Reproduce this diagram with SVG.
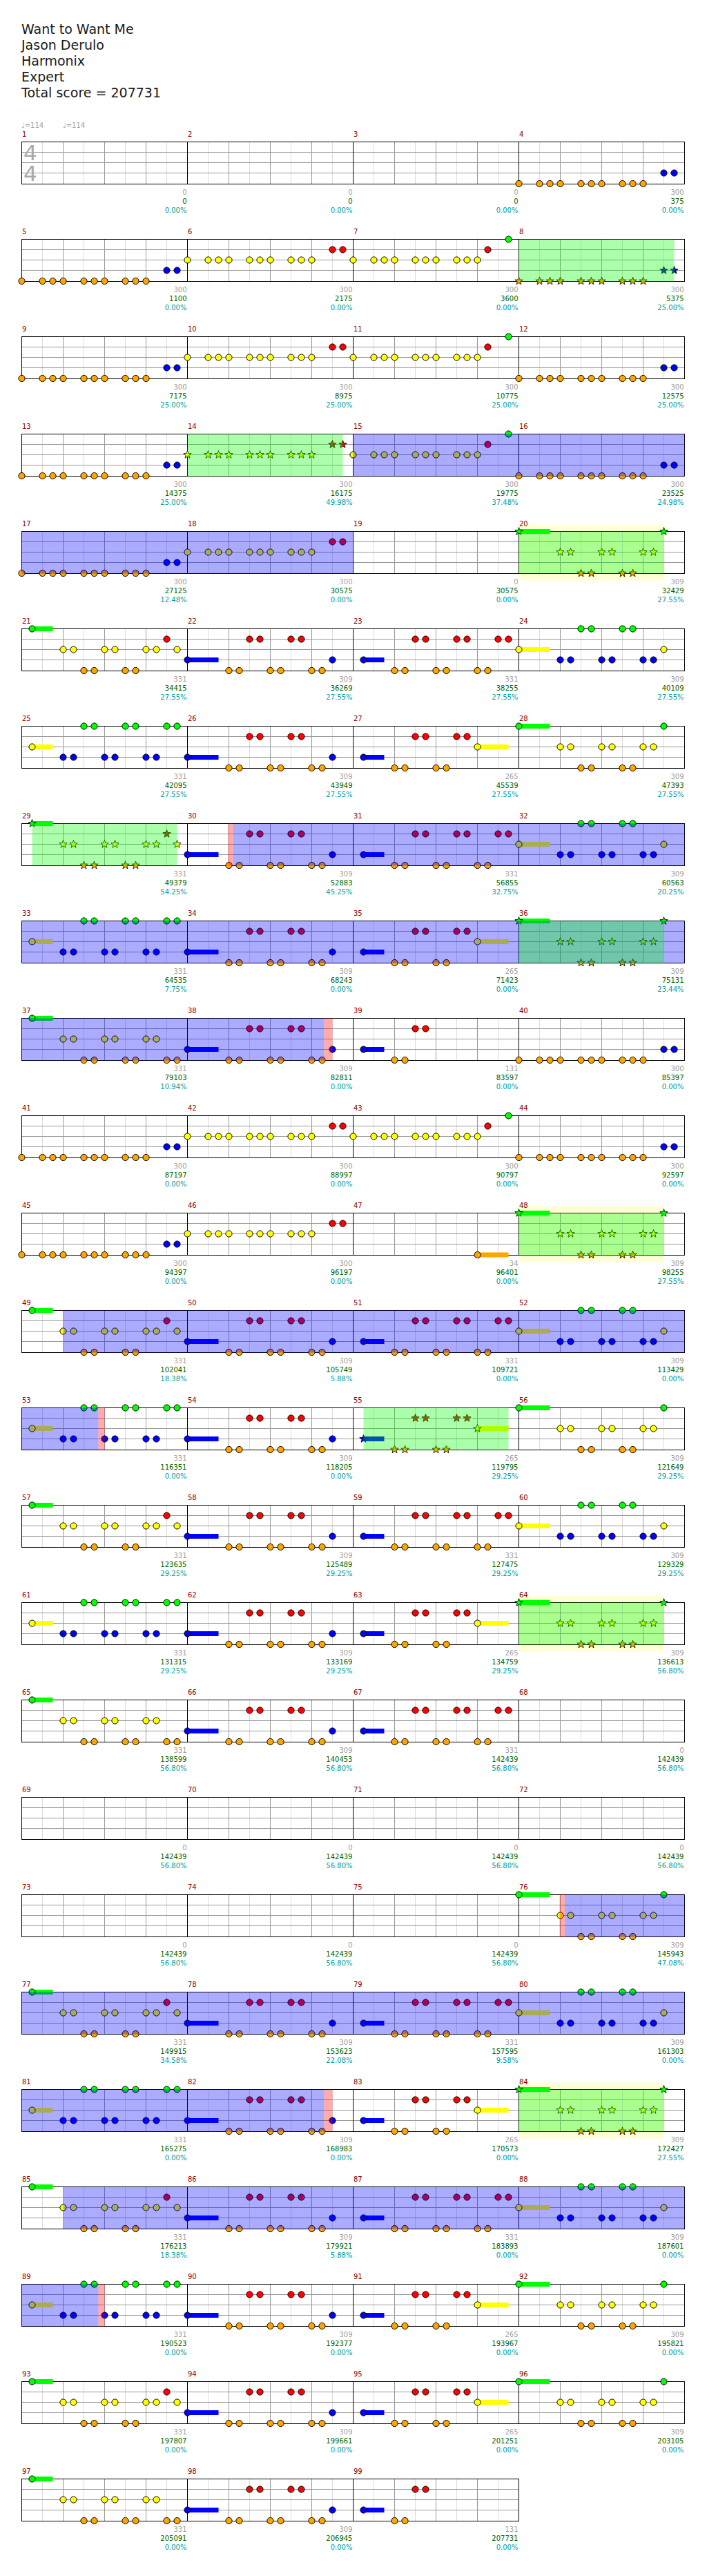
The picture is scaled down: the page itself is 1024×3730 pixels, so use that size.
<svg xmlns="http://www.w3.org/2000/svg" xmlns:xlink="http://www.w3.org/1999/xlink" width="1024" height="3730" viewBox="0 0 1024 3730">
<style>
.ti{font-family:'DejaVu Sans',sans-serif;font-size:19px;fill:#1a1a1a}
.mn{font-family:'DejaVu Sans',sans-serif;font-size:10px;fill:#8b0000}
.a,.b,.c{font-family:'DejaVu Sans',sans-serif;font-size:10px;text-anchor:end}
.a{fill:#a0a0a0}.b{fill:#006400}.c{fill:#00a0a0}
.tm{font-family:'DejaVu Sans',sans-serif;font-size:10px;fill:#a0a0a0}
.ts{font-family:'DejaVu Sans',sans-serif;font-size:31px;fill:#aaaaaa}
circle{stroke:#000;stroke-width:1}
.gov{fill:#00ff00;fill-opacity:0.33}
.bov{fill:#0000ff;fill-opacity:0.33}
.pov{fill:#ff0000;fill-opacity:0.33}
.ybg{fill:#ffffd5}
</style>
<defs>
<g id="grid">
<path d="M30,0V61M90,0V61M150,0V61M210,0V61M270,0V61M330,0V61M390,0V61M450,0V61M510,0V61M570,0V61M630,0V61M690,0V61M750,0V61M810,0V61M870,0V61M930,0V61" stroke="#dcdcdc"/>
<path d="M0,15H960M0,30H960M0,45H960M60,0V61M120,0V61M180,0V61M300,0V61M360,0V61M420,0V61M540,0V61M600,0V61M660,0V61M780,0V61M840,0V61M900,0V61" stroke="#999"/>
<path d="M240,0V61M480,0V61M720,0V61" stroke="#000"/>
<rect width="960" height="61" fill="none" stroke="#000"/>
</g>
<g id="grid3">
<path d="M30,0V61M90,0V61M150,0V61M210,0V61M270,0V61M330,0V61M390,0V61M450,0V61M510,0V61M570,0V61M630,0V61M690,0V61" stroke="#dcdcdc"/>
<path d="M0,15H720M0,30H720M0,45H720M60,0V61M120,0V61M180,0V61M300,0V61M360,0V61M420,0V61M540,0V61M600,0V61M660,0V61" stroke="#999"/>
<path d="M240,0V61M480,0V61" stroke="#000"/>
<rect width="720" height="61" fill="none" stroke="#000"/>
</g>
<circle id="G" r="4.6" fill="#00ff00"/>
<circle id="R" cy="15" r="4.6" fill="#ff0000"/>
<circle id="Y" cy="30" r="4.6" fill="#ffff00"/>
<circle id="B" cy="45" r="4.6" fill="#0000ff"/>
<circle id="O" cy="60.5" r="4.6" fill="#ffa500"/>
<path id="st" d="M0,-6L1.47,-2.02L5.71,-1.85L2.38,0.77L3.53,4.85L0,2.5L-3.53,4.85L-2.38,0.77L-5.71,-1.85L-1.47,-2.02Z" stroke="#000" stroke-width="0.8"/>
<use id="sG" href="#st" fill="#00ff00"/>
<use id="sR" href="#st" y="15" fill="#ff0000"/>
<use id="sY" href="#st" y="30" fill="#ffff00"/>
<use id="sB" href="#st" y="45" fill="#0000ff"/>
<use id="sO" href="#st" y="60.5" fill="#ffa500"/>
<g id="P_OB"><use href="#O"/><use href="#O" x="30"/><use href="#O" x="45"/><use href="#O" x="60"/><use href="#O" x="90"/><use href="#O" x="105"/><use href="#O" x="120"/><use href="#O" x="150"/><use href="#O" x="165"/><use href="#O" x="180"/><use href="#B" x="210"/><use href="#B" x="225"/></g>
<g id="P_YR"><use href="#Y"/><use href="#Y" x="30"/><use href="#Y" x="45"/><use href="#Y" x="60"/><use href="#Y" x="90"/><use href="#Y" x="105"/><use href="#Y" x="120"/><use href="#Y" x="150"/><use href="#Y" x="165"/><use href="#Y" x="180"/><use href="#R" x="210"/><use href="#R" x="225"/></g>
<g id="P_YRG"><use href="#Y"/><use href="#Y" x="30"/><use href="#Y" x="45"/><use href="#Y" x="60"/><use href="#Y" x="90"/><use href="#Y" x="105"/><use href="#Y" x="120"/><use href="#Y" x="150"/><use href="#Y" x="165"/><use href="#Y" x="180"/><use href="#R" x="195"/><use href="#G" x="225"/></g>
<g id="S_OB"><use href="#sO"/><use href="#sO" x="30"/><use href="#sO" x="45"/><use href="#sO" x="60"/><use href="#sO" x="90"/><use href="#sO" x="105"/><use href="#sO" x="120"/><use href="#sO" x="150"/><use href="#sO" x="165"/><use href="#sO" x="180"/><use href="#sB" x="210"/><use href="#sB" x="225"/></g>
<g id="S_YR"><use href="#sY"/><use href="#sY" x="30"/><use href="#sY" x="45"/><use href="#sY" x="60"/><use href="#sY" x="90"/><use href="#sY" x="105"/><use href="#sY" x="120"/><use href="#sY" x="150"/><use href="#sY" x="165"/><use href="#sY" x="180"/><use href="#sR" x="210"/><use href="#sR" x="225"/></g>
<g id="P_A"><rect x="15" y="-3.5" width="30" height="7" fill="#00ff00"/><use href="#G" x="15"/><use href="#Y" x="60"/><use href="#Y" x="75"/><use href="#Y" x="120"/><use href="#Y" x="135"/><use href="#Y" x="180"/><use href="#Y" x="195"/><use href="#Y" x="225"/><use href="#O" x="90"/><use href="#O" x="105"/><use href="#O" x="150"/><use href="#O" x="165"/><use href="#R" x="210"/></g>
<g id="P_B"><rect x="0" y="41.5" width="45" height="7" fill="#0000ff"/><use href="#B"/><use href="#O" x="60"/><use href="#O" x="75"/><use href="#O" x="120"/><use href="#O" x="135"/><use href="#O" x="180"/><use href="#O" x="195"/><use href="#R" x="90"/><use href="#R" x="105"/><use href="#R" x="150"/><use href="#R" x="165"/><use href="#B" x="210"/></g>
<g id="P_C"><rect x="15" y="41.5" width="30" height="7" fill="#0000ff"/><use href="#B" x="15"/><use href="#O" x="60"/><use href="#O" x="75"/><use href="#O" x="120"/><use href="#O" x="135"/><use href="#O" x="180"/><use href="#O" x="195"/><use href="#R" x="90"/><use href="#R" x="105"/><use href="#R" x="150"/><use href="#R" x="165"/><use href="#R" x="210"/><use href="#R" x="225"/></g>
<g id="P_D"><rect x="0" y="26.5" width="45" height="7" fill="#ffff00"/><use href="#Y"/><use href="#B" x="60"/><use href="#B" x="75"/><use href="#B" x="120"/><use href="#B" x="135"/><use href="#B" x="180"/><use href="#B" x="195"/><use href="#G" x="90"/><use href="#G" x="105"/><use href="#G" x="150"/><use href="#G" x="165"/><use href="#Y" x="210"/></g>
<g id="P_E"><rect x="15" y="26.5" width="30" height="7" fill="#ffff00"/><use href="#Y" x="15"/><use href="#B" x="60"/><use href="#B" x="75"/><use href="#B" x="120"/><use href="#B" x="135"/><use href="#B" x="180"/><use href="#B" x="195"/><use href="#G" x="90"/><use href="#G" x="105"/><use href="#G" x="150"/><use href="#G" x="165"/><use href="#G" x="210"/><use href="#G" x="225"/></g>
<g id="P_F"><rect x="15" y="41.5" width="30" height="7" fill="#0000ff"/><use href="#B" x="15"/><use href="#O" x="60"/><use href="#O" x="75"/><use href="#O" x="120"/><use href="#O" x="135"/><use href="#R" x="90"/><use href="#R" x="105"/><use href="#R" x="150"/><use href="#R" x="165"/><rect x="180" y="26.5" width="45" height="7" fill="#ffff00"/><use href="#Y" x="180"/></g>
<g id="P_G"><rect x="0" y="-3.5" width="45" height="7" fill="#00ff00"/><use href="#G"/><use href="#Y" x="60"/><use href="#Y" x="75"/><use href="#Y" x="120"/><use href="#Y" x="135"/><use href="#Y" x="180"/><use href="#Y" x="195"/><use href="#O" x="90"/><use href="#O" x="105"/><use href="#O" x="150"/><use href="#O" x="165"/><use href="#G" x="210"/></g>
<g id="P_H"><rect x="15" y="-3.5" width="30" height="7" fill="#00ff00"/><use href="#G" x="15"/><use href="#Y" x="60"/><use href="#Y" x="75"/><use href="#Y" x="120"/><use href="#Y" x="135"/><use href="#Y" x="180"/><use href="#Y" x="195"/><use href="#O" x="90"/><use href="#O" x="105"/><use href="#O" x="150"/><use href="#O" x="165"/><use href="#O" x="210"/><use href="#O" x="225"/></g>
<g id="P_I"><rect x="15" y="41.5" width="30" height="7" fill="#0000ff"/><use href="#B" x="15"/><use href="#O" x="60"/><use href="#O" x="75"/><use href="#R" x="90"/><use href="#R" x="105"/></g>
<g id="P_J"><rect x="180" y="57" width="45" height="7" fill="#ffa500"/><use href="#O" x="180"/></g>
<g id="S_G"><rect x="0" y="-3.5" width="45" height="7" fill="#00ff00"/><use href="#sG"/><use href="#sY" x="60"/><use href="#sY" x="75"/><use href="#sY" x="120"/><use href="#sY" x="135"/><use href="#sY" x="180"/><use href="#sY" x="195"/><use href="#sO" x="90"/><use href="#sO" x="105"/><use href="#sO" x="150"/><use href="#sO" x="165"/><use href="#sG" x="210"/></g>
<g id="S_A"><rect x="15" y="-3.5" width="30" height="7" fill="#00ff00"/><use href="#sG" x="15"/><use href="#sY" x="60"/><use href="#sY" x="75"/><use href="#sY" x="120"/><use href="#sY" x="135"/><use href="#sY" x="180"/><use href="#sY" x="195"/><use href="#sY" x="225"/><use href="#sO" x="90"/><use href="#sO" x="105"/><use href="#sO" x="150"/><use href="#sO" x="165"/><use href="#sR" x="210"/></g>
<g id="S_F"><rect x="15" y="41.5" width="30" height="7" fill="#0000ff"/><use href="#sB" x="15"/><use href="#sO" x="60"/><use href="#sO" x="75"/><use href="#sO" x="120"/><use href="#sO" x="135"/><use href="#sR" x="90"/><use href="#sR" x="105"/><use href="#sR" x="150"/><use href="#sR" x="165"/><rect x="180" y="26.5" width="45" height="7" fill="#ffff00"/><use href="#sY" x="180"/></g>
</defs>
<rect width="1024" height="3730" fill="#fff"/>
<g id="title">
<text class="ti" x="31" y="49">Want to Want Me</text>
<text class="ti" x="31" y="72">Jason Derulo</text>
<text class="ti" x="31" y="95">Harmonix</text>
<text class="ti" x="31" y="118">Expert</text>
<text class="ti" x="31" y="141">Total score = 207731</text>
</g>
<g id="row1" transform="translate(0,205.5)">
<use href="#grid" x="31.5"/>
<use href="#P_OB" x="751.5"/>
<text class="tm" x="31" y="-20.5">♩=114</text><text class="tm" x="91" y="-20.5">♩=114</text>
<text class="ts" x="34" y="26.8">4</text><text class="ts" x="34" y="56.8">4</text>
<text class="mn" x="32" y="-7.5">1</text><text class="a" x="270.5" y="76.5">0</text><text class="b" x="270.5" y="89.5">0</text><text class="c" x="270.5" y="102.5">0.00%</text>
<text class="mn" x="272" y="-7.5">2</text><text class="a" x="510.5" y="76.5">0</text><text class="b" x="510.5" y="89.5">0</text><text class="c" x="510.5" y="102.5">0.00%</text>
<text class="mn" x="512" y="-7.5">3</text><text class="a" x="750.5" y="76.5">0</text><text class="b" x="750.5" y="89.5">0</text><text class="c" x="750.5" y="102.5">0.00%</text>
<text class="mn" x="752" y="-7.5">4</text><text class="a" x="990.5" y="76.5">300</text><text class="b" x="990.5" y="89.5">375</text><text class="c" x="990.5" y="102.5">0.00%</text>
</g>
<g id="row2" transform="translate(0,346.5)">
<use href="#grid" x="31.5"/>
<use href="#P_OB" x="31.5"/><use href="#P_YR" x="271.5"/><use href="#P_YRG" x="511.5"/><use href="#S_OB" x="751.5"/>
<rect class="gov" x="751.5" y="0" width="225" height="61"/>
<text class="mn" x="32" y="-7.5">5</text><text class="a" x="270.5" y="76.5">300</text><text class="b" x="270.5" y="89.5">1100</text><text class="c" x="270.5" y="102.5">0.00%</text>
<text class="mn" x="272" y="-7.5">6</text><text class="a" x="510.5" y="76.5">300</text><text class="b" x="510.5" y="89.5">2175</text><text class="c" x="510.5" y="102.5">0.00%</text>
<text class="mn" x="512" y="-7.5">7</text><text class="a" x="750.5" y="76.5">300</text><text class="b" x="750.5" y="89.5">3600</text><text class="c" x="750.5" y="102.5">0.00%</text>
<text class="mn" x="752" y="-7.5">8</text><text class="a" x="990.5" y="76.5">300</text><text class="b" x="990.5" y="89.5">5375</text><text class="c" x="990.5" y="102.5">25.00%</text>
</g>
<g id="row3" transform="translate(0,487.5)">
<use href="#grid" x="31.5"/>
<use href="#P_OB" x="31.5"/><use href="#P_YR" x="271.5"/><use href="#P_YRG" x="511.5"/><use href="#P_OB" x="751.5"/>
<text class="mn" x="32" y="-7.5">9</text><text class="a" x="270.5" y="76.5">300</text><text class="b" x="270.5" y="89.5">7175</text><text class="c" x="270.5" y="102.5">25.00%</text>
<text class="mn" x="272" y="-7.5">10</text><text class="a" x="510.5" y="76.5">300</text><text class="b" x="510.5" y="89.5">8975</text><text class="c" x="510.5" y="102.5">25.00%</text>
<text class="mn" x="512" y="-7.5">11</text><text class="a" x="750.5" y="76.5">300</text><text class="b" x="750.5" y="89.5">10775</text><text class="c" x="750.5" y="102.5">25.00%</text>
<text class="mn" x="752" y="-7.5">12</text><text class="a" x="990.5" y="76.5">300</text><text class="b" x="990.5" y="89.5">12575</text><text class="c" x="990.5" y="102.5">25.00%</text>
</g>
<g id="row4" transform="translate(0,628.5)">
<use href="#grid" x="31.5"/>
<use href="#P_OB" x="31.5"/><use href="#S_YR" x="271.5"/><use href="#P_YRG" x="511.5"/><use href="#P_OB" x="751.5"/>
<rect class="gov" x="271.5" y="0" width="225" height="61"/>
<rect class="bov" x="511.5" y="0" width="480" height="61"/>
<text class="mn" x="32" y="-7.5">13</text><text class="a" x="270.5" y="76.5">300</text><text class="b" x="270.5" y="89.5">14375</text><text class="c" x="270.5" y="102.5">25.00%</text>
<text class="mn" x="272" y="-7.5">14</text><text class="a" x="510.5" y="76.5">300</text><text class="b" x="510.5" y="89.5">16175</text><text class="c" x="510.5" y="102.5">49.98%</text>
<text class="mn" x="512" y="-7.5">15</text><text class="a" x="750.5" y="76.5">300</text><text class="b" x="750.5" y="89.5">19775</text><text class="c" x="750.5" y="102.5">37.48%</text>
<text class="mn" x="752" y="-7.5">16</text><text class="a" x="990.5" y="76.5">300</text><text class="b" x="990.5" y="89.5">23525</text><text class="c" x="990.5" y="102.5">24.98%</text>
</g>
<g id="row5" transform="translate(0,769.5)">
<rect class="ybg" x="751.5" y="-10" width="210" height="81"/>
<use href="#grid" x="31.5"/>
<use href="#P_OB" x="31.5"/><use href="#P_YR" x="271.5"/><use href="#S_G" x="751.5"/>
<rect class="bov" x="31.5" y="0" width="480" height="61"/>
<rect class="gov" x="751.5" y="0" width="210" height="61"/>
<text class="mn" x="32" y="-7.5">17</text><text class="a" x="270.5" y="76.5">300</text><text class="b" x="270.5" y="89.5">27125</text><text class="c" x="270.5" y="102.5">12.48%</text>
<text class="mn" x="272" y="-7.5">18</text><text class="a" x="510.5" y="76.5">300</text><text class="b" x="510.5" y="89.5">30575</text><text class="c" x="510.5" y="102.5">0.00%</text>
<text class="mn" x="512" y="-7.5">19</text><text class="a" x="750.5" y="76.5">0</text><text class="b" x="750.5" y="89.5">30575</text><text class="c" x="750.5" y="102.5">0.00%</text>
<text class="mn" x="752" y="-7.5">20</text><text class="a" x="990.5" y="76.5">309</text><text class="b" x="990.5" y="89.5">32429</text><text class="c" x="990.5" y="102.5">27.55%</text>
</g>
<g id="row6" transform="translate(0,910.5)">
<use href="#grid" x="31.5"/>
<use href="#P_A" x="31.5"/><use href="#P_B" x="271.5"/><use href="#P_C" x="511.5"/><use href="#P_D" x="751.5"/>
<text class="mn" x="32" y="-7.5">21</text><text class="a" x="270.5" y="76.5">331</text><text class="b" x="270.5" y="89.5">34415</text><text class="c" x="270.5" y="102.5">27.55%</text>
<text class="mn" x="272" y="-7.5">22</text><text class="a" x="510.5" y="76.5">309</text><text class="b" x="510.5" y="89.5">36269</text><text class="c" x="510.5" y="102.5">27.55%</text>
<text class="mn" x="512" y="-7.5">23</text><text class="a" x="750.5" y="76.5">331</text><text class="b" x="750.5" y="89.5">38255</text><text class="c" x="750.5" y="102.5">27.55%</text>
<text class="mn" x="752" y="-7.5">24</text><text class="a" x="990.5" y="76.5">309</text><text class="b" x="990.5" y="89.5">40109</text><text class="c" x="990.5" y="102.5">27.55%</text>
</g>
<g id="row7" transform="translate(0,1051.5)">
<use href="#grid" x="31.5"/>
<use href="#P_E" x="31.5"/><use href="#P_B" x="271.5"/><use href="#P_F" x="511.5"/><use href="#P_G" x="751.5"/>
<text class="mn" x="32" y="-7.5">25</text><text class="a" x="270.5" y="76.5">331</text><text class="b" x="270.5" y="89.5">42095</text><text class="c" x="270.5" y="102.5">27.55%</text>
<text class="mn" x="272" y="-7.5">26</text><text class="a" x="510.5" y="76.5">309</text><text class="b" x="510.5" y="89.5">43949</text><text class="c" x="510.5" y="102.5">27.55%</text>
<text class="mn" x="512" y="-7.5">27</text><text class="a" x="750.5" y="76.5">265</text><text class="b" x="750.5" y="89.5">45539</text><text class="c" x="750.5" y="102.5">27.55%</text>
<text class="mn" x="752" y="-7.5">28</text><text class="a" x="990.5" y="76.5">309</text><text class="b" x="990.5" y="89.5">47393</text><text class="c" x="990.5" y="102.5">27.55%</text>
</g>
<g id="row8" transform="translate(0,1192.5)">
<use href="#grid" x="31.5"/>
<use href="#S_A" x="31.5"/><use href="#P_B" x="271.5"/><use href="#P_C" x="511.5"/><use href="#P_D" x="751.5"/>
<rect class="gov" x="46.5" y="0" width="210" height="61"/>
<rect class="pov" x="330.5" y="0" width="7.5" height="61"/>
<rect class="bov" x="338" y="0" width="653.5" height="61"/>
<text class="mn" x="32" y="-7.5">29</text><text class="a" x="270.5" y="76.5">331</text><text class="b" x="270.5" y="89.5">49379</text><text class="c" x="270.5" y="102.5">54.25%</text>
<text class="mn" x="272" y="-7.5">30</text><text class="a" x="510.5" y="76.5">309</text><text class="b" x="510.5" y="89.5">52883</text><text class="c" x="510.5" y="102.5">45.25%</text>
<text class="mn" x="512" y="-7.5">31</text><text class="a" x="750.5" y="76.5">331</text><text class="b" x="750.5" y="89.5">56855</text><text class="c" x="750.5" y="102.5">32.75%</text>
<text class="mn" x="752" y="-7.5">32</text><text class="a" x="990.5" y="76.5">309</text><text class="b" x="990.5" y="89.5">60563</text><text class="c" x="990.5" y="102.5">20.25%</text>
</g>
<g id="row9" transform="translate(0,1333.5)">
<use href="#grid" x="31.5"/>
<use href="#P_E" x="31.5"/><use href="#P_B" x="271.5"/><use href="#P_F" x="511.5"/><use href="#S_G" x="751.5"/>
<rect class="bov" x="31.5" y="0" width="960" height="61"/>
<rect class="gov" x="751.5" y="0" width="210" height="61"/>
<text class="mn" x="32" y="-7.5">33</text><text class="a" x="270.5" y="76.5">331</text><text class="b" x="270.5" y="89.5">64535</text><text class="c" x="270.5" y="102.5">7.75%</text>
<text class="mn" x="272" y="-7.5">34</text><text class="a" x="510.5" y="76.5">309</text><text class="b" x="510.5" y="89.5">68243</text><text class="c" x="510.5" y="102.5">0.00%</text>
<text class="mn" x="512" y="-7.5">35</text><text class="a" x="750.5" y="76.5">265</text><text class="b" x="750.5" y="89.5">71423</text><text class="c" x="750.5" y="102.5">0.00%</text>
<text class="mn" x="752" y="-7.5">36</text><text class="a" x="990.5" y="76.5">309</text><text class="b" x="990.5" y="89.5">75131</text><text class="c" x="990.5" y="102.5">23.44%</text>
</g>
<g id="row10" transform="translate(0,1474.5)">
<use href="#grid" x="31.5"/>
<use href="#P_H" x="31.5"/><use href="#P_B" x="271.5"/><use href="#P_I" x="511.5"/><use href="#P_OB" x="751.5"/>
<rect class="bov" x="31.5" y="0" width="438" height="61"/>
<rect class="pov" x="469.5" y="0" width="12" height="61"/>
<text class="mn" x="32" y="-7.5">37</text><text class="a" x="270.5" y="76.5">331</text><text class="b" x="270.5" y="89.5">79103</text><text class="c" x="270.5" y="102.5">10.94%</text>
<text class="mn" x="272" y="-7.5">38</text><text class="a" x="510.5" y="76.5">309</text><text class="b" x="510.5" y="89.5">82811</text><text class="c" x="510.5" y="102.5">0.00%</text>
<text class="mn" x="512" y="-7.5">39</text><text class="a" x="750.5" y="76.5">131</text><text class="b" x="750.5" y="89.5">83597</text><text class="c" x="750.5" y="102.5">0.00%</text>
<text class="mn" x="752" y="-7.5">40</text><text class="a" x="990.5" y="76.5">300</text><text class="b" x="990.5" y="89.5">85397</text><text class="c" x="990.5" y="102.5">0.00%</text>
</g>
<g id="row11" transform="translate(0,1615.5)">
<use href="#grid" x="31.5"/>
<use href="#P_OB" x="31.5"/><use href="#P_YR" x="271.5"/><use href="#P_YRG" x="511.5"/><use href="#P_OB" x="751.5"/>
<text class="mn" x="32" y="-7.5">41</text><text class="a" x="270.5" y="76.5">300</text><text class="b" x="270.5" y="89.5">87197</text><text class="c" x="270.5" y="102.5">0.00%</text>
<text class="mn" x="272" y="-7.5">42</text><text class="a" x="510.5" y="76.5">300</text><text class="b" x="510.5" y="89.5">88997</text><text class="c" x="510.5" y="102.5">0.00%</text>
<text class="mn" x="512" y="-7.5">43</text><text class="a" x="750.5" y="76.5">300</text><text class="b" x="750.5" y="89.5">90797</text><text class="c" x="750.5" y="102.5">0.00%</text>
<text class="mn" x="752" y="-7.5">44</text><text class="a" x="990.5" y="76.5">300</text><text class="b" x="990.5" y="89.5">92597</text><text class="c" x="990.5" y="102.5">0.00%</text>
</g>
<g id="row12" transform="translate(0,1756.5)">
<rect class="ybg" x="751.5" y="-10" width="210" height="81"/>
<use href="#grid" x="31.5"/>
<use href="#P_OB" x="31.5"/><use href="#P_YR" x="271.5"/><use href="#P_J" x="511.5"/><use href="#S_G" x="751.5"/>
<rect class="gov" x="751.5" y="0" width="210" height="61"/>
<text class="mn" x="32" y="-7.5">45</text><text class="a" x="270.5" y="76.5">300</text><text class="b" x="270.5" y="89.5">94397</text><text class="c" x="270.5" y="102.5">0.00%</text>
<text class="mn" x="272" y="-7.5">46</text><text class="a" x="510.5" y="76.5">300</text><text class="b" x="510.5" y="89.5">96197</text><text class="c" x="510.5" y="102.5">0.00%</text>
<text class="mn" x="512" y="-7.5">47</text><text class="a" x="750.5" y="76.5">34</text><text class="b" x="750.5" y="89.5">96401</text><text class="c" x="750.5" y="102.5">0.00%</text>
<text class="mn" x="752" y="-7.5">48</text><text class="a" x="990.5" y="76.5">309</text><text class="b" x="990.5" y="89.5">98255</text><text class="c" x="990.5" y="102.5">27.55%</text>
</g>
<g id="row13" transform="translate(0,1897.5)">
<use href="#grid" x="31.5"/>
<use href="#P_A" x="31.5"/><use href="#P_B" x="271.5"/><use href="#P_C" x="511.5"/><use href="#P_D" x="751.5"/>
<rect class="pov" x="91.5" y="0" width="1.5" height="61"/>
<rect class="bov" x="93" y="0" width="898.5" height="61"/>
<text class="mn" x="32" y="-7.5">49</text><text class="a" x="270.5" y="76.5">331</text><text class="b" x="270.5" y="89.5">102041</text><text class="c" x="270.5" y="102.5">18.38%</text>
<text class="mn" x="272" y="-7.5">50</text><text class="a" x="510.5" y="76.5">309</text><text class="b" x="510.5" y="89.5">105749</text><text class="c" x="510.5" y="102.5">5.88%</text>
<text class="mn" x="512" y="-7.5">51</text><text class="a" x="750.5" y="76.5">331</text><text class="b" x="750.5" y="89.5">109721</text><text class="c" x="750.5" y="102.5">0.00%</text>
<text class="mn" x="752" y="-7.5">52</text><text class="a" x="990.5" y="76.5">309</text><text class="b" x="990.5" y="89.5">113429</text><text class="c" x="990.5" y="102.5">0.00%</text>
</g>
<g id="row14" transform="translate(0,2038.5)">
<use href="#grid" x="31.5"/>
<use href="#P_E" x="31.5"/><use href="#P_B" x="271.5"/><use href="#S_F" x="511.5"/><use href="#P_G" x="751.5"/>
<rect class="bov" x="31.5" y="0" width="111" height="61"/>
<rect class="pov" x="142.5" y="0" width="9" height="61"/>
<rect class="gov" x="526.5" y="0" width="210" height="61"/>
<text class="mn" x="32" y="-7.5">53</text><text class="a" x="270.5" y="76.5">331</text><text class="b" x="270.5" y="89.5">116351</text><text class="c" x="270.5" y="102.5">0.00%</text>
<text class="mn" x="272" y="-7.5">54</text><text class="a" x="510.5" y="76.5">309</text><text class="b" x="510.5" y="89.5">118205</text><text class="c" x="510.5" y="102.5">0.00%</text>
<text class="mn" x="512" y="-7.5">55</text><text class="a" x="750.5" y="76.5">265</text><text class="b" x="750.5" y="89.5">119795</text><text class="c" x="750.5" y="102.5">29.25%</text>
<text class="mn" x="752" y="-7.5">56</text><text class="a" x="990.5" y="76.5">309</text><text class="b" x="990.5" y="89.5">121649</text><text class="c" x="990.5" y="102.5">29.25%</text>
</g>
<g id="row15" transform="translate(0,2179.5)">
<use href="#grid" x="31.5"/>
<use href="#P_A" x="31.5"/><use href="#P_B" x="271.5"/><use href="#P_C" x="511.5"/><use href="#P_D" x="751.5"/>
<text class="mn" x="32" y="-7.5">57</text><text class="a" x="270.5" y="76.5">331</text><text class="b" x="270.5" y="89.5">123635</text><text class="c" x="270.5" y="102.5">29.25%</text>
<text class="mn" x="272" y="-7.5">58</text><text class="a" x="510.5" y="76.5">309</text><text class="b" x="510.5" y="89.5">125489</text><text class="c" x="510.5" y="102.5">29.25%</text>
<text class="mn" x="512" y="-7.5">59</text><text class="a" x="750.5" y="76.5">331</text><text class="b" x="750.5" y="89.5">127475</text><text class="c" x="750.5" y="102.5">29.25%</text>
<text class="mn" x="752" y="-7.5">60</text><text class="a" x="990.5" y="76.5">309</text><text class="b" x="990.5" y="89.5">129329</text><text class="c" x="990.5" y="102.5">29.25%</text>
</g>
<g id="row16" transform="translate(0,2320.5)">
<rect class="ybg" x="751.5" y="-10" width="210" height="81"/>
<use href="#grid" x="31.5"/>
<use href="#P_E" x="31.5"/><use href="#P_B" x="271.5"/><use href="#P_F" x="511.5"/><use href="#S_G" x="751.5"/>
<rect class="gov" x="751.5" y="0" width="210" height="61"/>
<text class="mn" x="32" y="-7.5">61</text><text class="a" x="270.5" y="76.5">331</text><text class="b" x="270.5" y="89.5">131315</text><text class="c" x="270.5" y="102.5">29.25%</text>
<text class="mn" x="272" y="-7.5">62</text><text class="a" x="510.5" y="76.5">309</text><text class="b" x="510.5" y="89.5">133169</text><text class="c" x="510.5" y="102.5">29.25%</text>
<text class="mn" x="512" y="-7.5">63</text><text class="a" x="750.5" y="76.5">265</text><text class="b" x="750.5" y="89.5">134759</text><text class="c" x="750.5" y="102.5">29.25%</text>
<text class="mn" x="752" y="-7.5">64</text><text class="a" x="990.5" y="76.5">309</text><text class="b" x="990.5" y="89.5">136613</text><text class="c" x="990.5" y="102.5">56.80%</text>
</g>
<g id="row17" transform="translate(0,2461.5)">
<use href="#grid" x="31.5"/>
<use href="#P_H" x="31.5"/><use href="#P_B" x="271.5"/><use href="#P_C" x="511.5"/>
<text class="mn" x="32" y="-7.5">65</text><text class="a" x="270.5" y="76.5">331</text><text class="b" x="270.5" y="89.5">138599</text><text class="c" x="270.5" y="102.5">56.80%</text>
<text class="mn" x="272" y="-7.5">66</text><text class="a" x="510.5" y="76.5">309</text><text class="b" x="510.5" y="89.5">140453</text><text class="c" x="510.5" y="102.5">56.80%</text>
<text class="mn" x="512" y="-7.5">67</text><text class="a" x="750.5" y="76.5">331</text><text class="b" x="750.5" y="89.5">142439</text><text class="c" x="750.5" y="102.5">56.80%</text>
<text class="mn" x="752" y="-7.5">68</text><text class="a" x="990.5" y="76.5">0</text><text class="b" x="990.5" y="89.5">142439</text><text class="c" x="990.5" y="102.5">56.80%</text>
</g>
<g id="row18" transform="translate(0,2602.5)">
<use href="#grid" x="31.5"/>
<text class="mn" x="32" y="-7.5">69</text><text class="a" x="270.5" y="76.5">0</text><text class="b" x="270.5" y="89.5">142439</text><text class="c" x="270.5" y="102.5">56.80%</text>
<text class="mn" x="272" y="-7.5">70</text><text class="a" x="510.5" y="76.5">0</text><text class="b" x="510.5" y="89.5">142439</text><text class="c" x="510.5" y="102.5">56.80%</text>
<text class="mn" x="512" y="-7.5">71</text><text class="a" x="750.5" y="76.5">0</text><text class="b" x="750.5" y="89.5">142439</text><text class="c" x="750.5" y="102.5">56.80%</text>
<text class="mn" x="752" y="-7.5">72</text><text class="a" x="990.5" y="76.5">0</text><text class="b" x="990.5" y="89.5">142439</text><text class="c" x="990.5" y="102.5">56.80%</text>
</g>
<g id="row19" transform="translate(0,2743.5)">
<use href="#grid" x="31.5"/>
<use href="#P_G" x="751.5"/>
<rect class="pov" x="810.5" y="0" width="7.5" height="61"/>
<rect class="bov" x="818" y="0" width="173.5" height="61"/>
<text class="mn" x="32" y="-7.5">73</text><text class="a" x="270.5" y="76.5">0</text><text class="b" x="270.5" y="89.5">142439</text><text class="c" x="270.5" y="102.5">56.80%</text>
<text class="mn" x="272" y="-7.5">74</text><text class="a" x="510.5" y="76.5">0</text><text class="b" x="510.5" y="89.5">142439</text><text class="c" x="510.5" y="102.5">56.80%</text>
<text class="mn" x="512" y="-7.5">75</text><text class="a" x="750.5" y="76.5">0</text><text class="b" x="750.5" y="89.5">142439</text><text class="c" x="750.5" y="102.5">56.80%</text>
<text class="mn" x="752" y="-7.5">76</text><text class="a" x="990.5" y="76.5">309</text><text class="b" x="990.5" y="89.5">145943</text><text class="c" x="990.5" y="102.5">47.08%</text>
</g>
<g id="row20" transform="translate(0,2884.5)">
<use href="#grid" x="31.5"/>
<use href="#P_A" x="31.5"/><use href="#P_B" x="271.5"/><use href="#P_C" x="511.5"/><use href="#P_D" x="751.5"/>
<rect class="bov" x="31.5" y="0" width="960" height="61"/>
<text class="mn" x="32" y="-7.5">77</text><text class="a" x="270.5" y="76.5">331</text><text class="b" x="270.5" y="89.5">149915</text><text class="c" x="270.5" y="102.5">34.58%</text>
<text class="mn" x="272" y="-7.5">78</text><text class="a" x="510.5" y="76.5">309</text><text class="b" x="510.5" y="89.5">153623</text><text class="c" x="510.5" y="102.5">22.08%</text>
<text class="mn" x="512" y="-7.5">79</text><text class="a" x="750.5" y="76.5">331</text><text class="b" x="750.5" y="89.5">157595</text><text class="c" x="750.5" y="102.5">9.58%</text>
<text class="mn" x="752" y="-7.5">80</text><text class="a" x="990.5" y="76.5">309</text><text class="b" x="990.5" y="89.5">161303</text><text class="c" x="990.5" y="102.5">0.00%</text>
</g>
<g id="row21" transform="translate(0,3025.5)">
<rect class="ybg" x="751.5" y="-10" width="210" height="81"/>
<use href="#grid" x="31.5"/>
<use href="#P_E" x="31.5"/><use href="#P_B" x="271.5"/><use href="#P_F" x="511.5"/><use href="#S_G" x="751.5"/>
<rect class="bov" x="31.5" y="0" width="438" height="61"/>
<rect class="pov" x="469.5" y="0" width="12" height="61"/>
<rect class="gov" x="751.5" y="0" width="210" height="61"/>
<text class="mn" x="32" y="-7.5">81</text><text class="a" x="270.5" y="76.5">331</text><text class="b" x="270.5" y="89.5">165275</text><text class="c" x="270.5" y="102.5">0.00%</text>
<text class="mn" x="272" y="-7.5">82</text><text class="a" x="510.5" y="76.5">309</text><text class="b" x="510.5" y="89.5">168983</text><text class="c" x="510.5" y="102.5">0.00%</text>
<text class="mn" x="512" y="-7.5">83</text><text class="a" x="750.5" y="76.5">265</text><text class="b" x="750.5" y="89.5">170573</text><text class="c" x="750.5" y="102.5">0.00%</text>
<text class="mn" x="752" y="-7.5">84</text><text class="a" x="990.5" y="76.5">309</text><text class="b" x="990.5" y="89.5">172427</text><text class="c" x="990.5" y="102.5">27.55%</text>
</g>
<g id="row22" transform="translate(0,3166.5)">
<use href="#grid" x="31.5"/>
<use href="#P_A" x="31.5"/><use href="#P_B" x="271.5"/><use href="#P_C" x="511.5"/><use href="#P_D" x="751.5"/>
<rect class="pov" x="91.5" y="0" width="1.5" height="61"/>
<rect class="bov" x="93" y="0" width="898.5" height="61"/>
<text class="mn" x="32" y="-7.5">85</text><text class="a" x="270.5" y="76.5">331</text><text class="b" x="270.5" y="89.5">176213</text><text class="c" x="270.5" y="102.5">18.38%</text>
<text class="mn" x="272" y="-7.5">86</text><text class="a" x="510.5" y="76.5">309</text><text class="b" x="510.5" y="89.5">179921</text><text class="c" x="510.5" y="102.5">5.88%</text>
<text class="mn" x="512" y="-7.5">87</text><text class="a" x="750.5" y="76.5">331</text><text class="b" x="750.5" y="89.5">183893</text><text class="c" x="750.5" y="102.5">0.00%</text>
<text class="mn" x="752" y="-7.5">88</text><text class="a" x="990.5" y="76.5">309</text><text class="b" x="990.5" y="89.5">187601</text><text class="c" x="990.5" y="102.5">0.00%</text>
</g>
<g id="row23" transform="translate(0,3307.5)">
<use href="#grid" x="31.5"/>
<use href="#P_E" x="31.5"/><use href="#P_B" x="271.5"/><use href="#P_F" x="511.5"/><use href="#P_G" x="751.5"/>
<rect class="bov" x="31.5" y="0" width="111" height="61"/>
<rect class="pov" x="142.5" y="0" width="9" height="61"/>
<text class="mn" x="32" y="-7.5">89</text><text class="a" x="270.5" y="76.5">331</text><text class="b" x="270.5" y="89.5">190523</text><text class="c" x="270.5" y="102.5">0.00%</text>
<text class="mn" x="272" y="-7.5">90</text><text class="a" x="510.5" y="76.5">309</text><text class="b" x="510.5" y="89.5">192377</text><text class="c" x="510.5" y="102.5">0.00%</text>
<text class="mn" x="512" y="-7.5">91</text><text class="a" x="750.5" y="76.5">265</text><text class="b" x="750.5" y="89.5">193967</text><text class="c" x="750.5" y="102.5">0.00%</text>
<text class="mn" x="752" y="-7.5">92</text><text class="a" x="990.5" y="76.5">309</text><text class="b" x="990.5" y="89.5">195821</text><text class="c" x="990.5" y="102.5">0.00%</text>
</g>
<g id="row24" transform="translate(0,3448.5)">
<use href="#grid" x="31.5"/>
<use href="#P_A" x="31.5"/><use href="#P_B" x="271.5"/><use href="#P_F" x="511.5"/><use href="#P_G" x="751.5"/>
<text class="mn" x="32" y="-7.5">93</text><text class="a" x="270.5" y="76.5">331</text><text class="b" x="270.5" y="89.5">197807</text><text class="c" x="270.5" y="102.5">0.00%</text>
<text class="mn" x="272" y="-7.5">94</text><text class="a" x="510.5" y="76.5">309</text><text class="b" x="510.5" y="89.5">199661</text><text class="c" x="510.5" y="102.5">0.00%</text>
<text class="mn" x="512" y="-7.5">95</text><text class="a" x="750.5" y="76.5">265</text><text class="b" x="750.5" y="89.5">201251</text><text class="c" x="750.5" y="102.5">0.00%</text>
<text class="mn" x="752" y="-7.5">96</text><text class="a" x="990.5" y="76.5">309</text><text class="b" x="990.5" y="89.5">203105</text><text class="c" x="990.5" y="102.5">0.00%</text>
</g>
<g id="row25" transform="translate(0,3589.5)">
<use href="#grid3" x="31.5"/>
<use href="#P_H" x="31.5"/><use href="#P_B" x="271.5"/><use href="#P_I" x="511.5"/>
<text class="mn" x="32" y="-7.5">97</text><text class="a" x="270.5" y="76.5">331</text><text class="b" x="270.5" y="89.5">205091</text><text class="c" x="270.5" y="102.5">0.00%</text>
<text class="mn" x="272" y="-7.5">98</text><text class="a" x="510.5" y="76.5">309</text><text class="b" x="510.5" y="89.5">206945</text><text class="c" x="510.5" y="102.5">0.00%</text>
<text class="mn" x="512" y="-7.5">99</text><text class="a" x="750.5" y="76.5">131</text><text class="b" x="750.5" y="89.5">207731</text><text class="c" x="750.5" y="102.5">0.00%</text>
</g>
</svg>
